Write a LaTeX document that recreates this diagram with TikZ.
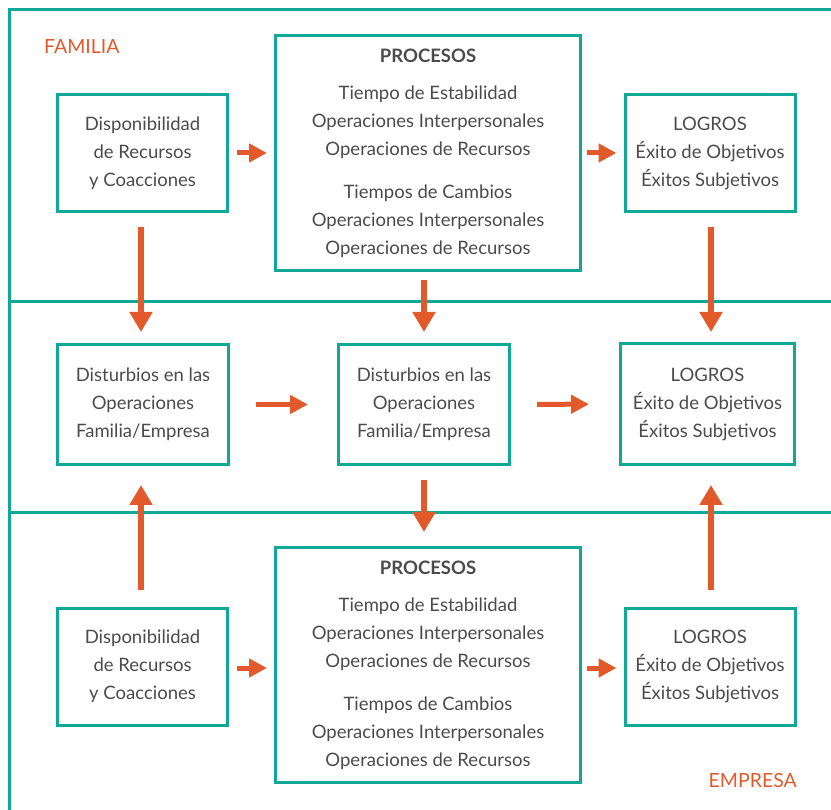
\documentclass[tikz,border=0pt]{standalone}
\usepackage{fontspec}
\setmainfont{Lato}
\usetikzlibrary{arrows.meta}
\definecolor{verde}{RGB}{18,168,152}
\definecolor{naranja}{RGB}{226,90,44}
\definecolor{gris}{RGB}{75,75,75}

\begin{document}
\begin{tikzpicture}[x=1pt,y=-1pt,
		box/.style={rectangle,draw=verde,line width=3pt,align=center,text=gris,
			font=\fontsize{18.5}{28}\selectfont,minimum width=170pt,minimum height=117pt,inner sep=0pt,
			execute at begin node={\rule{0pt}{19pt}}},
		big box/.style={box,minimum width=305pt,minimum height=235pt},
		zona/.style={text=naranja,font=\fontsize{19.5}{20}\selectfont,inner sep=0pt},
		flow/.style={draw=naranja,line width=5pt,-{Triangle[length=18pt,width=18pt]}},
		vflow/.style={draw=naranja,line width=5.5pt,-{Triangle[length=20pt,width=22pt]}}]
		
		\useasboundingbox (0,0) rectangle (831,810);
		% marco
		\draw[verde,line width=3pt] (9,815) -- (9,10) -- (840,10);
		\draw[verde,line width=3pt] (9,302) -- (840,302);
		\draw[verde,line width=3pt] (9,513) -- (840,513);
		
		\node[zona,anchor=west] (familia) at (44,47) {FAMILIA};
		\node[zona,anchor=east] (empresa) at (797,781) {EMPRESA};
		
		% familia
		\node[box] (recF) at (142.5,153) {Disponibilidad\\de Recursos\\y Coacciones};
		\node[big box] (procF) at (428,153) {\textbf{PROCESOS}\\[9pt]Tiempo de Estabilidad\\Operaciones Interpersonales\\Operaciones de Recursos\\[15pt]Tiempos de Cambios\\Operaciones Interpersonales\\Operaciones de Recursos};
		\node[box] (logF) at (710,153) {LOGROS\\Éxito de Objetivos\\Éxitos Subjetivos};
		
		% disturbios
		\node[box,minimum width=171pt,minimum height=120pt] (distA) at (143,404.5) {Disturbios en las\\Operaciones\\Familia/Empresa};
		\node[box,minimum width=171pt,minimum height=120pt] (distB) at (424,404.5) {Disturbios en las\\Operaciones\\Familia/Empresa};
		\node[box,minimum width=174pt,minimum height=121pt] (logM) at (707.5,404) {LOGROS\\Éxito de Objetivos\\Éxitos Subjetivos};
		
		% empresa
		\node[box] (recE) at (142.5,666.5) {Disponibilidad\\de Recursos\\y Coacciones};
		\node[big box] (procE) at (428,665) {\textbf{PROCESOS}\\[9pt]Tiempo de Estabilidad\\Operaciones Interpersonales\\Operaciones de Recursos\\[15pt]Tiempos de Cambios\\Operaciones Interpersonales\\Operaciones de Recursos};
		\node[box] (logE) at (710,666.5) {LOGROS\\Éxito de Objetivos\\Éxitos Subjetivos};
		
		\path
		(recF) edge[flow,shorten <=8pt,shorten >=7pt] (procF)
		(procF) edge[flow,shorten <=5pt,shorten >=7pt] (logF)
		(distA) edge[flow,shorten <=26pt,shorten >=29pt] (distB)
		(distB) edge[flow,shorten <=26pt,shorten >=30pt] (logM)
		(recE.east |- 0,668) edge[flow,shorten <=8pt,shorten >=7pt] (procE.west |- 0,668)
		(procE.east |- 0,668) edge[flow,shorten <=5pt,shorten >=7pt] (logE.west |- 0,668);
		
		\path
		(recF.south -| 141,0) edge[vflow,shorten <=14pt,shorten >=11pt] (distA.north -| 141,0)
		(procF.south -| distB.north) edge[vflow,shorten <=8pt,shorten >=11pt] (distB.north)
		(logF.south -| 711,0) edge[vflow,shorten <=14pt,shorten >=10pt] (logM.north -| 711,0)
		(distB.south) edge[vflow,shorten <=14pt,shorten >=14pt] (procE.north -| distB.south)
		(recE.north -| 141,0) edge[vflow,shorten <=17pt,shorten >=19pt] (distA.south -| 141,0)
		(logE.north -| 711,0) edge[vflow,shorten <=17pt,shorten >=19pt] (logM.south -| 711,0);
\end{tikzpicture}
\end{document}
